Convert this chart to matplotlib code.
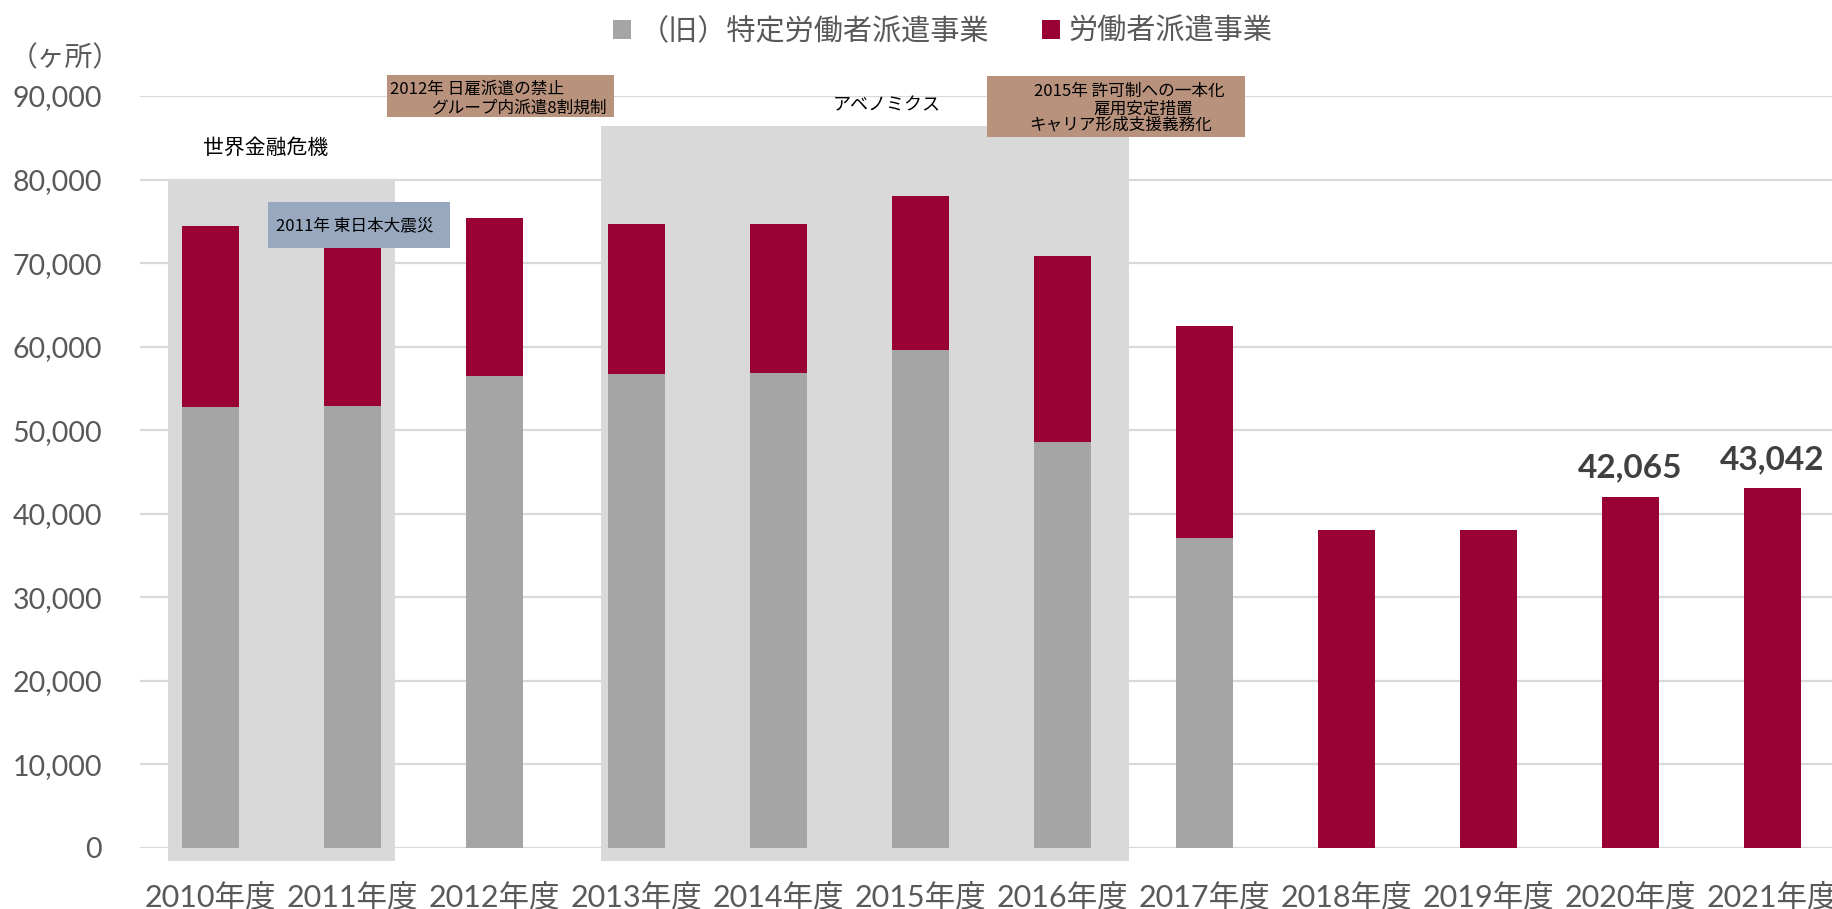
import matplotlib
matplotlib.use("Agg")
import matplotlib.pyplot as plt
from matplotlib.patches import Rectangle
from matplotlib.ticker import FuncFormatter

# data
years = ["2010年度", "2011年度", "2012年度", "2013年度", "2014年度", "2015年度",
         "2016年度", "2017年度", "2018年度", "2019年度", "2020年度", "2021年度"]
old_specific = [52835, 52955, 56500, 56700, 56900, 59570, 48650, 37080, 0, 0, 0, 0]
dispatch = [21650, 21000, 18900, 17970, 17770, 18420, 22160, 25360, 38080, 38000, 42065, 43042]
labeled_years = ["2020年度", "2021年度"]

GRAY = "#a5a5a5"
RED = "#990033"
TXT = "#595959"
CJK = ["Noto Sans CJK JP", "DejaVu Sans"]
NUM = ["Lato", "Noto Sans CJK JP", "DejaVu Sans"]

fig = plt.figure(figsize=(18.32, 9.09), dpi=100)
ax = fig.add_axes([139.5 / 1832, 61 / 909, 1704 / 1832, 752 / 909])

x = list(range(len(years)))
b1 = ax.bar(x, old_specific, width=0.4, color=GRAY, zorder=2, label="（旧）特定労働者派遣事業")
b2 = ax.bar(x, dispatch, width=0.4, bottom=old_specific, color=RED, zorder=2, label="労働者派遣事業")

ax.set_xlim(-0.5, 11.5)
ax.set_ylim(0, 90000)
ax.set_yticks(range(0, 90001, 10000))
ax.yaxis.set_major_formatter(FuncFormatter(lambda v, p: f"{int(v):,}"))
ax.set_xticks(x)
ax.set_xticklabels(years)
ax.grid(axis="y", color="#d9d9d9", linewidth=1.6, zorder=0.5)
ax.set_axisbelow(True)
for s in ax.spines.values():
    s.set_visible(False)
ax.tick_params(axis="both", length=0)
ax.tick_params(axis="y", pad=27, labelsize=20.5, labelcolor=TXT)
ax.tick_params(axis="x", pad=25, labelsize=22, labelcolor=TXT)
for t in ax.get_yticklabels() + ax.get_xticklabels():
    t.set_family(NUM)

# shaded periods
for x0, x1, top in [(-0.30, 1.30, 79780), (2.75, 6.47, 86360)]:
    ax.add_patch(Rectangle((x0, -1555), x1 - x0, top + 1555, color="#d9d9d9",
                           zorder=1, clip_on=False, lw=0))

# value labels
for i, yr in enumerate(years):
    if yr in labeled_years:
        tot = old_specific[i] + dispatch[i]
        ax.annotate(f"{tot:,}", (i, tot), xytext=(0, 10), textcoords="offset points",
                    ha="center", va="bottom", fontsize=24, fontweight="bold",
                    color="#404040", family=NUM)

# annotation boxes
ax.add_patch(Rectangle((0.405, 71770), 1.281, 5500, color="#97a8bf", zorder=3, clip_on=False, lw=0))
ax.text(0.461, 74520, "2011年 東日本大震災", fontsize=12, family=CJK, va="center", zorder=4)

ax.add_patch(Rectangle((1.243, 87440), 1.599, 5020, color="#b8927c", zorder=3, clip_on=False, lw=0))
ax.text(1.264, 90790, "2012年 日雇派遣の禁止", fontsize=12, family=CJK, va="center", zorder=4, clip_on=False)
ax.text(2.792, 88520, "グループ内派遣8割規制", fontsize=12, family=CJK, va="center", ha="right", zorder=4, clip_on=False)

ax.add_patch(Rectangle((5.468, 85050), 1.817, 7290, color="#b8927c", zorder=3, clip_on=False, lw=0))
ax.text(6.468, 90550, "2015年 許可制への一本化", fontsize=12, family=CJK, va="center", ha="center", zorder=4, clip_on=False)
ax.text(6.567, 88400, "雇用安定措置", fontsize=12, family=CJK, va="center", ha="center", zorder=4, clip_on=False)
ax.text(6.412, 86480, "キャリア形成支援義務化", fontsize=12, family=CJK, va="center", ha="center", zorder=4, clip_on=False)

ax.text(0.391, 83850, "世界金融危機", fontsize=15, family=CJK, va="center", ha="center", zorder=4)
ax.text(4.764, 88880, "アベノミクス", fontsize=13, family=CJK, va="center", ha="center", zorder=4, clip_on=False)

# unit + legend
fig.text(65 / 1832, 1 - 58 / 909, "（ヶ所）", fontsize=20, family=CJK, color=TXT, ha="center", va="center")
leg = fig.legend(handles=[b1, b2], loc="center", bbox_to_anchor=(943 / 1832, 1 - 32 / 909), ncol=2,
                 frameon=False, handlelength=0.62, handleheight=0.62,
                 handletextpad=0.3, columnspacing=1.8, prop={"family": CJK, "size": 21})
for t in leg.get_texts():
    t.set_color(TXT)

fig.savefig("out.png", dpi=100)
